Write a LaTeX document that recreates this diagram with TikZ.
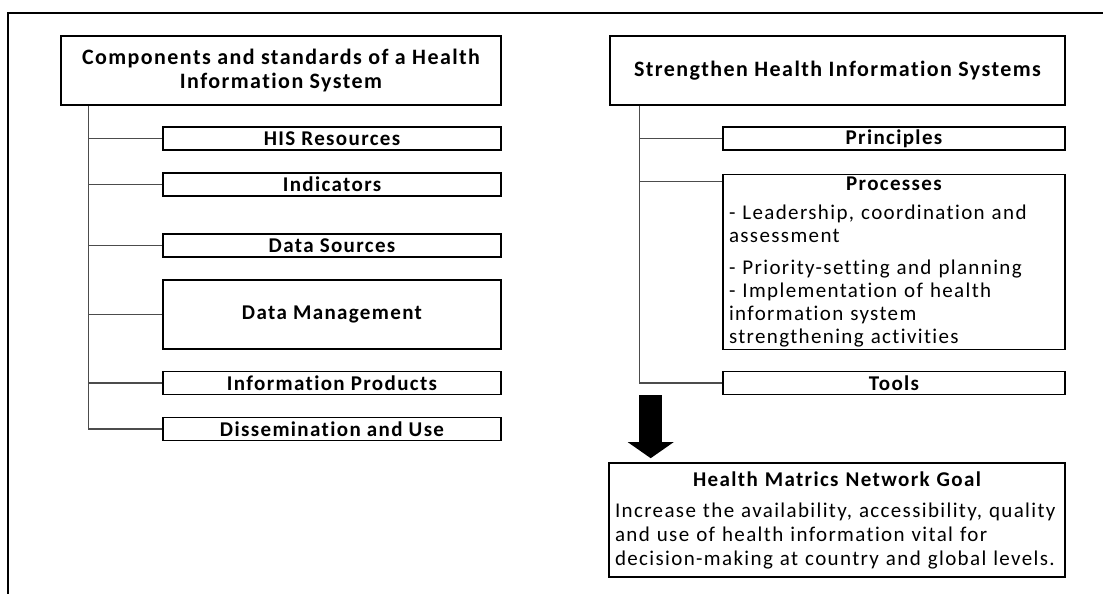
\documentclass[tikz,border=0pt]{standalone}
\usepackage{fontspec}
\setmainfont{Carlito}[LetterSpace=6.5, Ligatures=NoCommon]
\usetikzlibrary{arrows.meta}

\begin{document}
\begin{tikzpicture}[x=1pt,y=-1pt,
  head/.style={draw, line width=1.6pt, minimum width=440, minimum height=69, inner sep=0pt,
    align=center, font=\fontsize{22}{23.5}\selectfont\bfseries},
  item/.style={draw, line width=1.6pt, minimum width=338, minimum height=23, inner sep=0pt,
    font=\fontsize{21}{22}\selectfont\bfseries},
  textbox/.style={item, align=left, font=\fontsize{21}{23}\selectfont},
  link/.style={draw=black!70, line width=1.3pt},
  bigarrow/.style={line width=23pt, -{Triangle[length=16pt,width=45pt]}, shorten >=4pt}]
\useasboundingbox (0,0) rectangle (1103,594);

% outer frame, only top and left edges
\draw[line width=2pt] (8,594) -- (8,13) -- (1103,13);

% left column
\node[head] (comp) at (281,70.5) {Components and standards of a Health\\Information System};
\node[item] (res) at (332,138.5) {HIS Resources};
\node[item] (ind) at (332,184.5) {Indicators};
\node[item] (src) at (332,245.5) {Data Sources};
\node[item, minimum height=69] (mgmt) at (332,314.5) {Data Management};
\node[item] (prod) at (332,383) {Information Products};
\node[item] (diss) at (332,429) {Dissemination and Use};

\coordinate (ltrunk) at ([xshift=28pt]comp.south west);
\draw[link] (ltrunk) |- (diss.west);
\foreach \n in {res,ind,src,mgmt,prod}
  \draw[link] (ltrunk |- \n.west) -- (\n.west);

% right column
\node[head, minimum width=455] (shis) at (837.5,70.5) {Strengthen Health Information Systems};
\node[item, minimum width=342] (princ) at (894,138.5) {Principles};
\node[textbox, minimum width=342, minimum height=175, text width=330] (proc) at (894,262)
  {\makebox[330pt]{\bfseries Processes}\\[6pt]
   - Leadership, coordination and\\
   assessment\\[9pt]
   - Priority-setting and planning\\
   - Implementation of health\\
   information system\\
   strengthening activities};
\node[item, minimum width=342] (tools) at (894,383) {Tools};

\coordinate (rtrunk) at ([xshift=30pt]shis.south west);
\coordinate (pin) at ([yshift=-8pt]proc.north west);
\draw[link] (rtrunk) |- (tools.west);
\draw[link] (rtrunk |- princ.west) -- (princ.west);
\draw[link] (rtrunk |- pin) -- (pin);

% goal
\node[textbox, minimum width=456, minimum height=114, text width=444,
  font=\fontsize{21}{24}\selectfont] (goal) at (837,520)
  {\makebox[444pt]{\bfseries Health Matrics Network Goal}\\[7pt]
   Increase the availability, accessibility, quality\\
   and use of health information vital for\\
   decision-making at country and global levels.};

\coordinate (adown) at ([xshift=11.5pt]rtrunk);
\draw[bigarrow] (adown |- tools.south) -- (adown |- goal.north);
\end{tikzpicture}
\end{document}
